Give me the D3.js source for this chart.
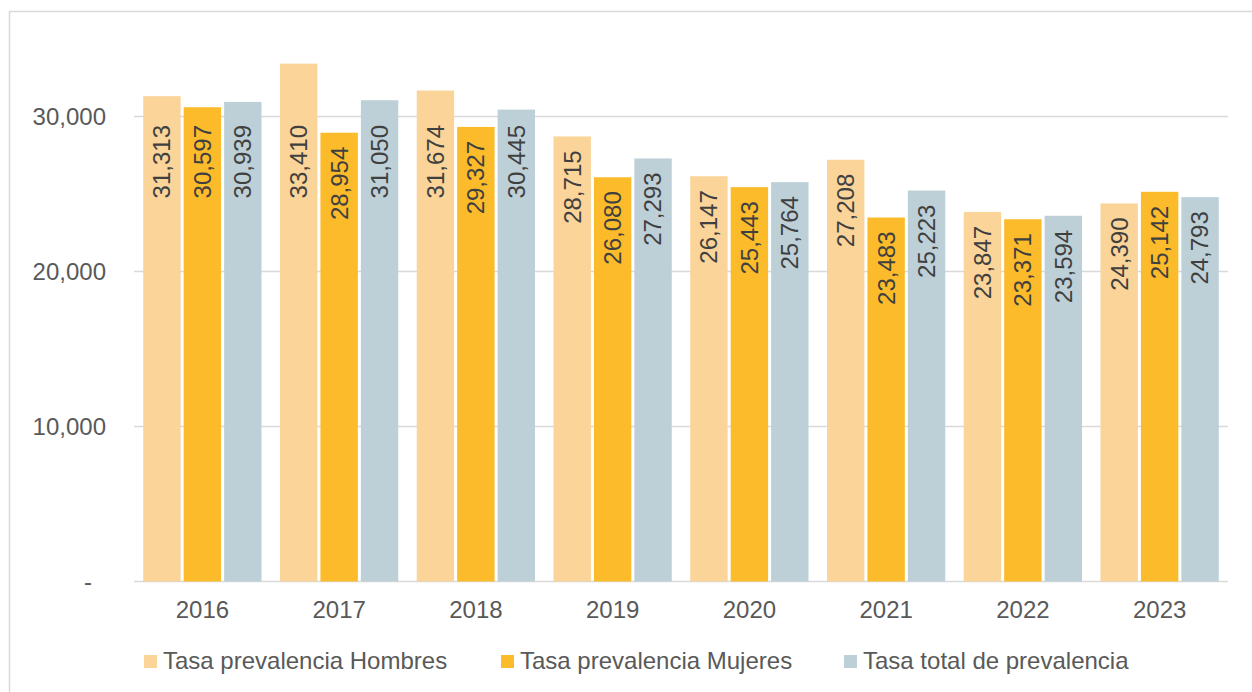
<!DOCTYPE html>
<html>
<head>
<meta charset="utf-8">
<script src="https://cdn.jsdelivr.net/npm/d3@7"></script>
<style>
  body { margin: 0; background: #fff; }
  svg { display: block; font-family: "Liberation Sans", Arial, sans-serif; }
</style>
</head>
<body>
<div id="chart"></div>
<script>
// data
var years = ["2016", "2017", "2018", "2019", "2020", "2021", "2022", "2023"];
var seriesNames = ["Tasa prevalencia Hombres", "Tasa prevalencia Mujeres", "Tasa total de prevalencia"];
var hombres = [31313, 33410, 31674, 28715, 26147, 27208, 23847, 24390];
var mujeres = [30597, 28954, 29327, 26080, 25443, 23483, 23371, 25142];
var total   = [30939, 31050, 30445, 27293, 25764, 25223, 23594, 24793];
var yTicks  = [0, 10000, 20000, 30000];

var colors = ["#fad499", "#fbbb2a", "#bdd0d8"];
var seriesValues = [hombres, mujeres, total];

// dimensions
var svgWidth = 1252, svgHeight = 692;
var plot = { left: 134, right: 1228, top: 39, bottom: 581.5 };

var svg = d3.select("#chart").append("svg")
  .attr("width", svgWidth)
  .attr("height", svgHeight);

// outer chart border (right/bottom fall outside the picture)
svg.append("rect")
  .attr("x", 9.5).attr("y", 11.5)
  .attr("width", 1300).attr("height", 720)
  .attr("fill", "none")
  .attr("stroke", "#d9d9d9")
  .attr("stroke-width", 1.5);

// scales
var x0 = d3.scaleBand()
  .domain(years)
  .range([plot.left, plot.right])
  .paddingInner(0.135)
  .paddingOuter(0.0675);

var x1 = d3.scaleBand()
  .domain(d3.range(seriesNames.length))
  .range([0, x0.bandwidth()])
  .paddingInner(0.075);

var y = d3.scaleLinear()
  .domain([0, 35000])
  .range([plot.bottom, plot.top]);

// gridlines
svg.append("g")
  .attr("class", "grid")
  .selectAll("line")
  .data(yTicks)
  .enter().append("line")
  .attr("x1", plot.left).attr("x2", plot.right)
  .attr("y1", function (d) { return y(d); })
  .attr("y2", function (d) { return y(d); })
  .attr("stroke", "#d9d9d9")
  .attr("stroke-width", 1.5);

// y axis labels
var yAxis = d3.axisLeft(y)
  .tickValues(yTicks)
  .tickSize(0)
  .tickPadding(0)
  .tickFormat(function (d) { return d === 0 ? "-" : d3.format(",")(d); });

var gy = svg.append("g")
  .attr("transform", "translate(106,0)")
  .call(yAxis);
gy.select(".domain").remove();
gy.selectAll("text")
  .attr("font-size", 24)
  .attr("fill", "#595959")
  .attr("font-family", "\"Liberation Sans\", Arial, sans-serif")
  .attr("x", function (d) { return d === 0 ? -14 : 0; });

// x axis labels
var xAxis = d3.axisBottom(x0).tickSize(0).tickPadding(0);
var gx = svg.append("g")
  .attr("transform", "translate(0," + plot.bottom + ")")
  .call(xAxis);
gx.select(".domain").remove();
gx.selectAll("text")
  .attr("font-size", 24)
  .attr("fill", "#595959")
  .attr("font-family", "\"Liberation Sans\", Arial, sans-serif")
  .attr("dy", null)
  .attr("y", 36.5);

// bars
var rows = years.map(function (yr, i) {
  return { year: yr, values: seriesValues.map(function (s, k) { return { k: k, v: s[i] }; }) };
});

var groups = svg.selectAll(".year")
  .data(rows)
  .enter().append("g")
  .attr("class", "year")
  .attr("transform", function (d) { return "translate(" + x0(d.year) + ",0)"; });

groups.selectAll("rect")
  .data(function (d) { return d.values; })
  .enter().append("rect")
  .attr("x", function (d) { return x1(d.k); })
  .attr("width", x1.bandwidth())
  .attr("y", function (d) { return y(d.v); })
  .attr("height", function (d) { return y(0) - y(d.v); })
  .attr("fill", function (d) { return colors[d.k]; });

// value labels, rotated, inside end of bar
groups.selectAll(".label")
  .data(function (d) { return d.values; })
  .enter().append("text")
  .attr("class", "label")
  .attr("transform", function (d) {
    var cx = x1(d.k) + x1.bandwidth() / 2;
    var ty = Math.max(y(d.v) + 14, 125);
    return "translate(" + cx + "," + ty + ") rotate(-90)";
  })
  .attr("dy", "0.35em")
  .attr("text-anchor", "end")
  .attr("font-size", 24)
  .attr("fill", "#404040")
  .text(function (d) { return d3.format(",")(d.v); });

// legend - entry x positions as laid out in the original
var legendX = [144, 501, 844];
var legend = svg.append("g").attr("class", "legend");
seriesNames.forEach(function (name, k) {
  var item = legend.append("g").attr("transform", "translate(" + legendX[k] + ",0)");
  item.append("rect")
    .attr("x", 0).attr("y", 655)
    .attr("width", 13).attr("height", 13)
    .attr("fill", colors[k]);
  item.append("text")
    .attr("x", 19).attr("y", 669)
    .attr("font-size", 24)
    .attr("fill", "#595959")
    .text(name);
});
</script>
</body>
</html>
